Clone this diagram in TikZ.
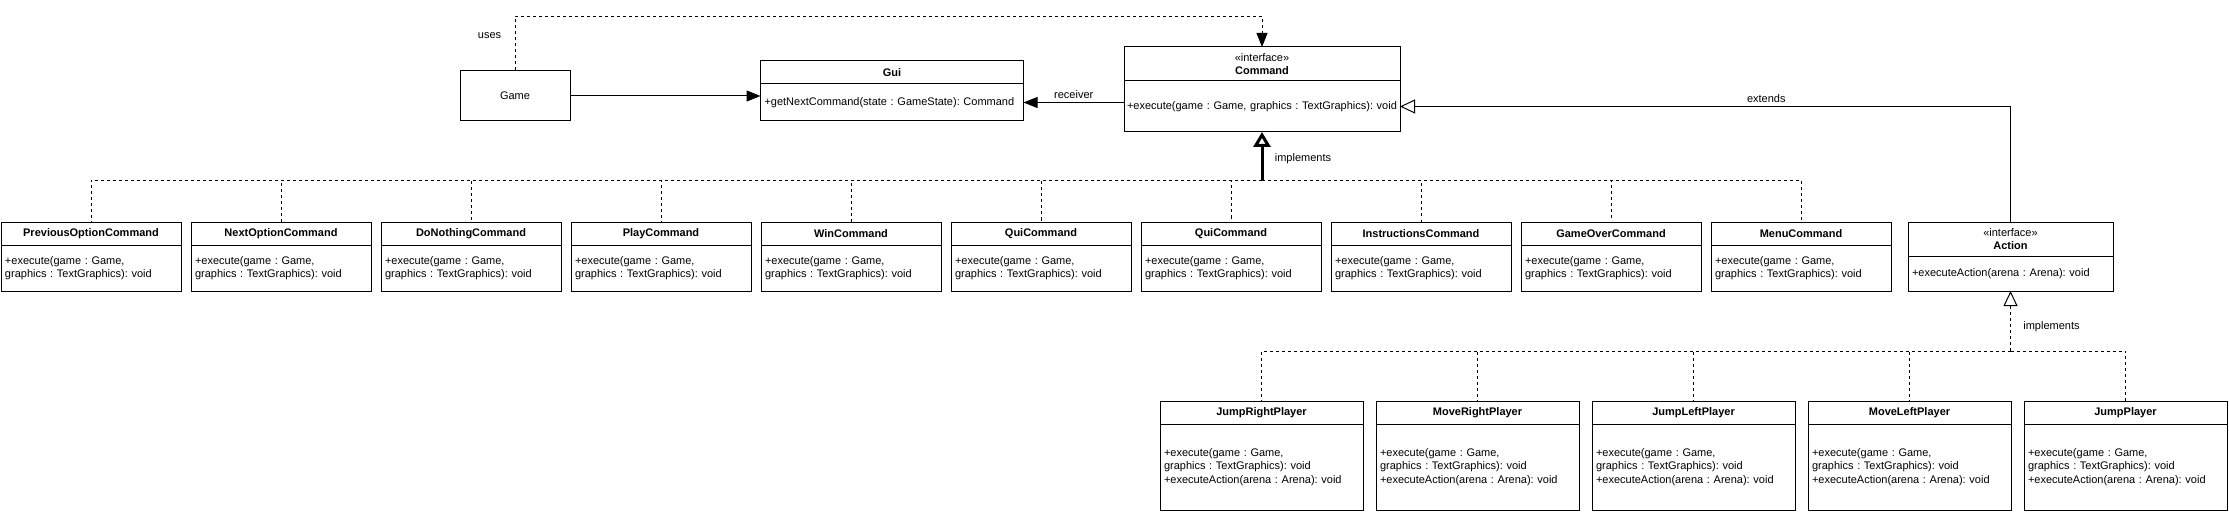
\documentclass[tikz,border=0pt]{standalone}
\usepackage{fontspec}
\setmainfont{Liberation Sans}
\usetikzlibrary{arrows.meta,positioning}
\frenchspacing

\begin{document}
\begin{tikzpicture}[x=1pt,y=-1pt,line width=1pt,
    every node/.style={font=\fontsize{11}{13.5}\selectfont},
    classhead/.style={draw,rectangle,inner sep=0pt,outer sep=0pt,align=center,font=\fontsize{11}{13.5}\selectfont\bfseries},
    ifacehead/.style={draw,rectangle,inner sep=0pt,outer sep=0pt,align=center},
    classbody/.style={draw,rectangle,inner xsep=4pt,inner ysep=0pt,outer sep=0pt,align=left},
    cmdhead/.style={classhead,minimum width=180pt,minimum height=23pt},
    cmdbody/.style={classbody,text width=172pt,minimum height=46pt},
    playerhead/.style={classhead,minimum width=203pt,minimum height=23pt},
    playerbody/.style={classbody,text width=195pt,minimum height=86pt},
    assoc/.style={-{Triangle[length=14pt,width=11pt]}},
    usesdep/.style={dash pattern=on 3pt off 3pt,-{Triangle[length=14pt,width=11pt]}},
    realize/.style={dash pattern=on 3pt off 3pt},
    implthick/.style={line width=3pt,-{Triangle[open,length=15pt,width=17pt]}},
    implthin/.style={dash pattern=on 3pt off 3pt,-{Triangle[open,length=15pt,width=14pt]}},
    extend/.style={-{Triangle[open,length=15pt,width=14pt]}}]
    \useasboundingbox (0,0) rectangle (2229,513);

    \node[draw,minimum width=110pt,minimum height=50pt] (game) at (515,96) {Game};

    \node[classhead,minimum width=263pt,minimum height=23pt] (gui) at (892,72.5) {Gui};
    \node[classbody,text width=255pt,minimum height=37pt,below=0pt of gui] (gui-b) {+getNextCommand(state : GameState): Command};

    \node[ifacehead,minimum width=276pt,minimum height=34pt] (cmd) at (1262,64) {«interface»\\\textbf{Command}};
    \node[classbody,inner xsep=3pt,text width=270pt,minimum height=51pt,below=0pt of cmd] (cmd-b) {+execute(game : Game, graphics : TextGraphics): void};

    \node[ifacehead,minimum width=205pt,minimum height=34pt] (action) at (2010.5,239) {«interface»\\\textbf{Action}};
    \node[classbody,text width=197pt,minimum height=35pt,below=0pt of action] (action-b) {+executeAction(arena : Arena): void};

    % commands
    \node[cmdhead] (prevopt) at (91,233.5) {PreviousOptionCommand};
    \node[cmdbody,below=0pt of prevopt] (prevopt-b) {+execute(game : Game,\\graphics : TextGraphics): void};
    \node[cmdhead] (nextopt) at (281,233.5) {NextOptionCommand};
    \node[cmdbody,below=0pt of nextopt] (nextopt-b) {+execute(game : Game,\\graphics : TextGraphics): void};
    \node[cmdhead] (donothing) at (471,233.5) {DoNothingCommand};
    \node[cmdbody,below=0pt of donothing] (donothing-b) {+execute(game : Game,\\graphics : TextGraphics): void};
    \node[cmdhead] (play) at (661,233.5) {PlayCommand};
    \node[cmdbody,below=0pt of play] (play-b) {+execute(game : Game,\\graphics : TextGraphics): void};
    \node[cmdhead] (win) at (851,233.5) {WinCommand};
    \node[cmdbody,below=0pt of win] (win-b) {+execute(game : Game,\\graphics : TextGraphics): void};
    \node[cmdhead] (quit1) at (1041,233.5) {QuiCommand};
    \node[cmdbody,below=0pt of quit1] (quit1-b) {+execute(game : Game,\\graphics : TextGraphics): void};
    \node[cmdhead] (quit2) at (1231,233.5) {QuiCommand};
    \node[cmdbody,below=0pt of quit2] (quit2-b) {+execute(game : Game,\\graphics : TextGraphics): void};
    \node[cmdhead] (instr) at (1421,233.5) {InstructionsCommand};
    \node[cmdbody,below=0pt of instr] (instr-b) {+execute(game : Game,\\graphics : TextGraphics): void};
    \node[cmdhead] (gameover) at (1611,233.5) {GameOverCommand};
    \node[cmdbody,below=0pt of gameover] (gameover-b) {+execute(game : Game,\\graphics : TextGraphics): void};
    \node[cmdhead] (menu) at (1801,233.5) {MenuCommand};
    \node[cmdbody,below=0pt of menu] (menu-b) {+execute(game : Game,\\graphics : TextGraphics): void};

    % player actions
    \node[playerhead] (jumpright) at (1261.5,412.5) {JumpRightPlayer};
    \node[playerbody,below=0pt of jumpright] (jumpright-b) {+execute(game : Game,\\graphics : TextGraphics): void\\+executeAction(arena : Arena): void};
    \node[playerhead] (moveright) at (1477.5,412.5) {MoveRightPlayer};
    \node[playerbody,below=0pt of moveright] (moveright-b) {+execute(game : Game,\\graphics : TextGraphics): void\\+executeAction(arena : Arena): void};
    \node[playerhead] (jumpleft) at (1693.5,412.5) {JumpLeftPlayer};
    \node[playerbody,below=0pt of jumpleft] (jumpleft-b) {+execute(game : Game,\\graphics : TextGraphics): void\\+executeAction(arena : Arena): void};
    \node[playerhead] (moveleft) at (1909.5,412.5) {MoveLeftPlayer};
    \node[playerbody,below=0pt of moveleft] (moveleft-b) {+execute(game : Game,\\graphics : TextGraphics): void\\+executeAction(arena : Arena): void};
    \node[playerhead] (jump) at (2125.5,412.5) {JumpPlayer};
    \node[playerbody,below=0pt of jump] (jump-b) {+execute(game : Game,\\graphics : TextGraphics): void\\+executeAction(arena : Arena): void};

    \coordinate (cmdbus) at (1262,180.5);
    \coordinate (actbus) at (2010.5,351);

    \draw[assoc] (game.east) -- (game.east -| gui-b.west);
    \draw[assoc] (gui-b.east -| cmd-b.west) -- node[above] {receiver} (gui-b.east);
    \draw[usesdep] (game.north) -- node[left,pos=.65,xshift=-10pt] {uses} ++(0,-54) -| (cmd.north);
    \draw[extend] (action.north) |- node[above,pos=.7] {extends} (cmd-b.east);

    \draw[implthick] (cmdbus) -- node[right,pos=.45,xshift=8pt] {implements} (cmd-b.south);
    \draw[realize] (cmdbus) -| (prevopt.north);
    \draw[realize] (cmdbus) -| (nextopt.north);
    \draw[realize] (cmdbus) -| (donothing.north);
    \draw[realize] (cmdbus) -| (play.north);
    \draw[realize] (cmdbus) -| (win.north);
    \draw[realize] (cmdbus) -| (quit1.north);
    \draw[realize] (cmdbus) -| (quit2.north);
    \draw[realize] (cmdbus) -| (instr.north);
    \draw[realize] (cmdbus) -| (gameover.north);
    \draw[realize] (cmdbus) -| (menu.north);

    \draw[implthin] (actbus) -- node[right,pos=.4,xshift=9pt] {implements} (action-b.south);
    \draw[realize] (actbus) -| (jumpright.north);
    \draw[realize] (actbus) -| (moveright.north);
    \draw[realize] (actbus) -| (jumpleft.north);
    \draw[realize] (actbus) -| (moveleft.north);
    \draw[realize] (actbus) -| (jump.north);
\end{tikzpicture}
\end{document}
